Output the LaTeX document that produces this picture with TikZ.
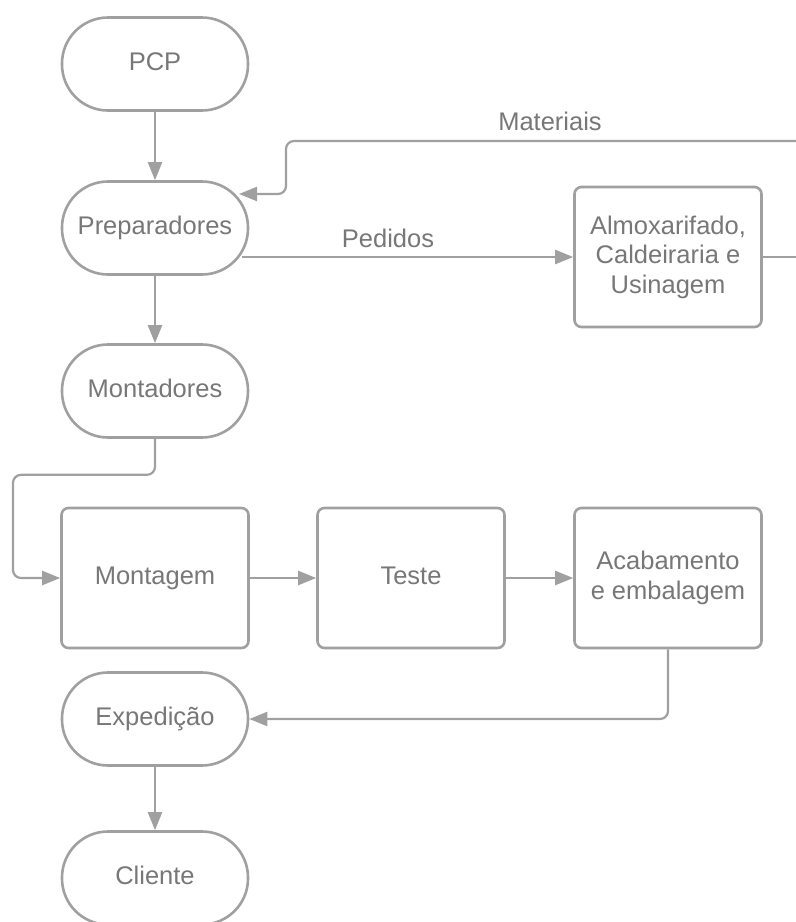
\documentclass[tikz,border=0pt]{standalone}
\usepackage{fontspec}
\setmainfont{Liberation Sans}
\usetikzlibrary{arrows.meta,calc}
\definecolor{linegray}{HTML}{A0A0A0}
\definecolor{textgray}{HTML}{777777}
\begin{document}
\begin{tikzpicture}[x=1pt,y=-1pt,
  every node/.style={font=\fontsize{25.5}{29.5}\selectfont, text=textgray},
  oneline/.style={text height=18pt, text depth=5pt},
  terminal/.style={draw=linegray, line width=2.6pt, rectangle, rounded corners=46pt,
    minimum width=186pt, minimum height=93pt, inner sep=0pt, oneline},
  procbox/.style={draw=linegray, line width=2.6pt, rectangle, rounded corners=7pt,
    minimum width=187pt, minimum height=140pt, inner sep=0pt, align=center},
  flow/.style={draw=linegray, line width=2.2pt, rounded corners=8pt,
    -{Triangle[length=18pt,width=14pt]}},
  plain/.style={draw=linegray, line width=2.2pt, rounded corners=8pt},
  lbl/.style={inner sep=0pt}]
\useasboundingbox (0,0) rectangle (796,922);

% terminal states
\node[terminal] (pcp)  at (155,64)  {PCP};
\node[terminal] (prep) at (155,228) {Preparadores};
\node[terminal] (mont) at (155,391) {Montadores};
\node[terminal] (exp)  at (155,719) {Expedição};
\node[terminal] (cli)  at (155,878) {Cliente};

% process boxes
\node[procbox] (alm)  at (668,257) {Almoxarifado,\\Caldeiraria e\\Usinagem};
\node[procbox, oneline] (mtg)  at (155,578) {Montagem};
\node[procbox, oneline] (tst)  at (411,578) {Teste};
\node[procbox] (acab) at (668,578) {Acabamento\\e embalagem};

% points on the rounded border of Preparadores
\coordinate (prepin)  at ($(prep.center)+(84,-34)$);
\coordinate (prepout) at ($(prep.center)+(87,29)$);
\coordinate (far) at (812,257);

% main flow
\draw[flow] (pcp) -- (prep);
\draw[flow] (prep) -- (mont);
\draw[flow] (mont.south) -- ++(0,36) -| (13,578) -- (mtg.west);
\draw[flow] (mtg) -- (tst);
\draw[flow] (tst) -- (acab);
\draw[flow] (acab.south) |- (exp.east);
\draw[flow] (exp) -- (cli);

% orders and materials
\draw[flow] (prepout) -- (prepout -| alm.west);
\draw[plain] (alm.east) -- (far);
\draw[flow] (far) -- (far |- 0,141) -- (286,141) |- (prepin);

\node[lbl] (pedidos)   at (388,238) {Pedidos};
\node[lbl] (materiais) at (550,121) {Materiais};
\end{tikzpicture}
\end{document}
